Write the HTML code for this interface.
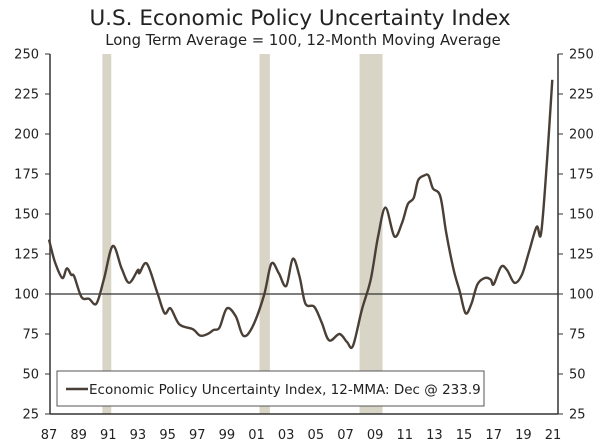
<!DOCTYPE html>
<html><head><meta charset="utf-8"><style>
body{margin:0;background:#fff;}
svg text{font-family:"DejaVu Sans","Liberation Sans",sans-serif;fill:#222;}
</style></head><body>
<svg width="600" height="441" viewBox="0 0 600 441">
<text x="300" y="25" font-size="21.5" text-anchor="middle">U.S. Economic Policy Uncertainty Index</text>
<text x="303" y="45" font-size="14.8" text-anchor="middle">Long Term Average = 100, 12-Month Moving Average</text>
<g id="rec"></g>
<g id="axes"></g>
<path id="line" fill="none" stroke="#4a3f36" stroke-width="2.4" stroke-linejoin="round"/>
<g>
<rect x="57" y="371" width="427" height="35" fill="#fff" stroke="#555" stroke-width="1"/>
<line x1="66" y1="389" x2="88" y2="389" stroke="#4a3f36" stroke-width="2.4"/>
<text x="89" y="394" font-size="13.5">Economic Policy Uncertainty Index, 12-MMA: Dec @ 233.9</text>
</g>
</svg>
<script>
const recStarts=[1990.6,2001.2,2007.95];
const recEnds=[1991.2,2001.9,2009.5];
const yTicks=[25,50,75,100,125,150,175,200,225,250];
const xTickYears=[1987,1989,1991,1993,1995,1997,1999,2001,2003,2005,2007,2009,2011,2013,2015,2017,2019,2021];
const years=[1987.0,1987.4,1987.9,1988.2,1988.5,1988.7,1989.2,1989.7,1990.2,1990.7,1991.3,1991.9,1992.4,1993.0,1993.1,1993.6,1994.3,1994.8,1995.2,1995.8,1996.7,1997.2,1997.7,1998.1,1998.5,1999.0,1999.6,2000.1,2000.7,2001.5,2002.0,2002.5,2003.0,2003.45,2003.9,2004.3,2004.9,2005.4,2005.9,2006.6,2007.1,2007.5,2008.1,2008.7,2009.2,2009.7,2010.3,2010.8,2011.2,2011.6,2011.9,2012.3,2012.6,2012.9,2013.4,2013.8,2014.3,2014.7,2015.1,2015.5,2015.9,2016.4,2016.8,2017.0,2017.5,2017.9,2018.4,2018.9,2019.4,2019.9,2020.2,2020.6,2020.95];
const values=[134,120,110,116,112,111,98,97,94,109,130,116,107,115,113,119,101,88,91,81,78,74,75,77.5,79,91,86,74,79,99,119,113,105,122,111,94,92,82,71,75,70,67.5,90,109,136,154,136,144,156,160,171,174,174,166,161,138,115,102,88,94,106,110,109,106,117,115,107,112,127,142,138,184,233.9];
const x0=49,x1=553,y0=414;
const X=yr=>x0+(yr-1987)*(x1-x0)/34;
const Y=v=>y0-(v-25)*1.6;
const NS='http://www.w3.org/2000/svg';
const rec=document.getElementById('rec'),ax=document.getElementById('axes');
function mk(tag,attrs,parent){const e=document.createElementNS(NS,tag);for(const k in attrs)e.setAttribute(k,attrs[k]);parent.appendChild(e);return e;}
recStarts.forEach((s,i)=>{const r=mk('rect',{x:X(s),y:Y(250),width:X(recEnds[i])-X(s),height:Y(25)-Y(250),fill:'#d8d4c6'},rec);

});
mk('line',{x1:50,y1:Y(250),x2:50,y2:Y(25),stroke:'#333','stroke-width':1.5},ax);
mk('line',{x1:558,y1:Y(250),x2:558,y2:Y(25),stroke:'#333','stroke-width':1.5},ax);
mk('line',{x1:50,y1:Y(25),x2:558,y2:Y(25),stroke:'#333','stroke-width':1.5},ax);
mk('line',{x1:50,y1:Y(100),x2:558,y2:Y(100),stroke:'#333','stroke-width':1.3},ax);
yTicks.forEach(v=>{
mk('line',{x1:45,y1:Y(v),x2:50,y2:Y(v),stroke:'#333'},ax);
mk('line',{x1:558,y1:Y(v),x2:563,y2:Y(v),stroke:'#333'},ax);
const t=mk('text',{x:39,y:Y(v)+4.5,'font-size':13,'text-anchor':'end'},ax);t.textContent=v;


const t2=mk('text',{x:569,y:Y(v)+4.5,'font-size':13},ax);t2.textContent=v;

});
xTickYears.forEach(yr=>{const t=mk('text',{x:X(yr),y:439,'font-size':13,'text-anchor':'middle'},ax);t.textContent=String(yr).slice(2);

});
const P=years.map((yr,i)=>[X(yr),Y(values[i])]);
let d='M'+P[0][0].toFixed(1)+','+P[0][1].toFixed(1);
for(let i=0;i<P.length-1;i++){const p0=P[Math.max(0,i-1)],p1=P[i],p2=P[i+1],p3=P[Math.min(P.length-1,i+2)];
const c1=[p1[0]+(p2[0]-p0[0])/6,p1[1]+(p2[1]-p0[1])/6],c2=[p2[0]-(p3[0]-p1[0])/6,p2[1]-(p3[1]-p1[1])/6];
d+='C'+c1.map(n=>n.toFixed(1)).join(',')+' '+c2.map(n=>n.toFixed(1)).join(',')+' '+p2.map(n=>n.toFixed(1)).join(',');}
document.getElementById('line').setAttribute('d',d);
</script>
</body></html>
